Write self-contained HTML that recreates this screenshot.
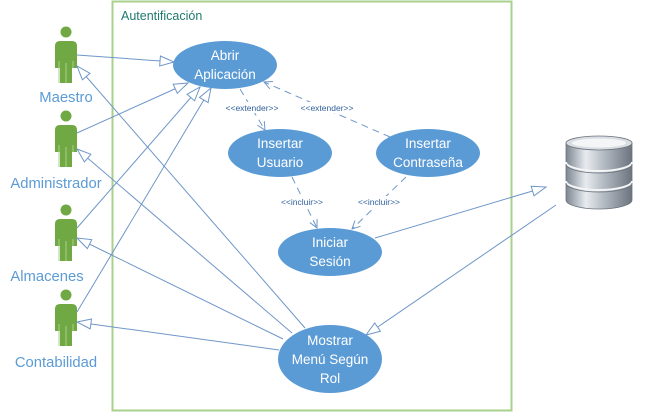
<!DOCTYPE html>
<html><head><meta charset="utf-8"><style>
html,body{margin:0;padding:0;background:#fff;}
svg{display:block;font-family:"Liberation Sans",sans-serif;}
.e{fill:#5b9bd5;}
.t{fill:#fff;font-size:13.5px;text-anchor:middle;}
.al{fill:#5b9bd5;font-size:14.8px;text-anchor:middle;}
.l{stroke:#6f96c8;stroke-width:1;fill:none;}
.d{stroke:#6f96c8;stroke-width:1;fill:none;stroke-dasharray:7,5;}
.s{fill:#2f5f9a;font-size:8.5px;text-anchor:middle;}
</style></head><body>
<svg width="647" height="413" viewBox="0 0 647 413">
<defs>
<marker id="tri" markerWidth="16" markerHeight="12" refX="15" refY="6" orient="auto" markerUnits="userSpaceOnUse">
<path d="M1,1 L15,6 L1,11 Z" fill="#fff" stroke="#6f96c8" stroke-width="1"/>
</marker>
<marker id="op" markerWidth="10" markerHeight="10" refX="9" refY="5" orient="auto" markerUnits="userSpaceOnUse">
<path d="M1,1 L9,5 L1,9" fill="none" stroke="#6f96c8" stroke-width="1"/>
</marker>
<linearGradient id="db" x1="0" x2="1" y1="0" y2="0">
<stop offset="0" stop-color="#7d8590"/><stop offset="0.3" stop-color="#e8ecf0"/><stop offset="0.55" stop-color="#b8bec6"/><stop offset="1" stop-color="#6b737e"/>
</linearGradient>
<g id="actor">
<circle cx="0" cy="0" r="5.5" fill="#70a844"/>
<path d="M-11,14 Q-11,9 -6,9 L6,9 Q11,9 11,14 L11,36 L6,36 L6,51 L-6,51 L-6,36 L-11,36 Z" fill="#70a844"/>
<path d="M-7,29 V51 M7,29 V36 M0,31 V51" stroke="#a7cf88" stroke-width="1"/>
</g>
</defs>
<rect x="112.5" y="1.5" width="399" height="409" fill="none" stroke="#a9d18e" stroke-width="2"/>
<text x="121" y="20" fill="#1f7a6e" font-size="12.5">Autentificación</text>

<use href="#actor" x="66" y="32"/>
<use href="#actor" x="66" y="116"/>
<use href="#actor" x="66" y="210"/>
<use href="#actor" x="66" y="295"/>
<text class="al" x="66" y="102">Maestro</text>
<text class="al" x="56" y="188">Administrador</text>
<text class="al" x="47" y="281">Almacenes</text>
<text class="al" x="56" y="367">Contabilidad</text>

<line class="l" x1="77" y1="55" x2="174" y2="62" marker-end="url(#tri)"/>
<line class="l" x1="77" y1="133" x2="188" y2="83" marker-end="url(#tri)"/>
<line class="l" x1="77" y1="228" x2="200" y2="87" marker-end="url(#tri)"/>
<line class="l" x1="77" y1="312" x2="211" y2="88" marker-end="url(#tri)"/>
<line class="l" x1="305" y1="328" x2="77" y2="66" marker-end="url(#tri)"/>
<line class="l" x1="292" y1="333" x2="77" y2="149" marker-end="url(#tri)"/>
<line class="l" x1="283" y1="339" x2="77" y2="238" marker-end="url(#tri)"/>
<line class="l" x1="279" y1="350" x2="77" y2="322" marker-end="url(#tri)"/>
<line class="l" x1="375" y1="238" x2="546" y2="187" marker-end="url(#tri)"/>
<line class="l" x1="556" y1="205" x2="366" y2="335" marker-end="url(#tri)"/>

<line class="d" x1="240" y1="89" x2="265" y2="130" marker-end="url(#op)"/>
<line class="d" x1="390" y1="137" x2="264" y2="82" marker-end="url(#op)"/>
<line class="d" x1="292" y1="177" x2="317" y2="228" marker-end="url(#op)"/>
<line class="d" x1="406" y1="177" x2="352" y2="229" marker-end="url(#op)"/>
<rect x="222" y="102" width="60" height="11" fill="#fff"/>
<rect x="297" y="102" width="60" height="11" fill="#fff"/>
<rect x="280" y="196" width="44" height="11" fill="#fff"/>
<rect x="355" y="196" width="48" height="11" fill="#fff"/>
<text class="s" x="252" y="111">&lt;&lt;extender&gt;&gt;</text>
<text class="s" x="327" y="111">&lt;&lt;extender&gt;&gt;</text>
<text class="s" x="302" y="205">&lt;&lt;incluir&gt;&gt;</text>
<text class="s" x="379" y="205">&lt;&lt;incluir&gt;&gt;</text>

<ellipse class="e" cx="225" cy="65" rx="52" ry="24"/>
<text class="t" x="225" y="60">Abrir</text><text class="t" x="225" y="79">Aplicación</text>
<ellipse class="e" cx="280" cy="153" rx="52" ry="24"/>
<text class="t" x="280" y="148">Insertar</text><text class="t" x="280" y="167">Usuario</text>
<ellipse class="e" cx="428" cy="153" rx="52" ry="24"/>
<text class="t" x="428" y="148">Insertar</text><text class="t" x="428" y="167">Contraseña</text>
<ellipse class="e" cx="330" cy="252" rx="52" ry="24"/>
<text class="t" x="330" y="247">Iniciar</text><text class="t" x="330" y="266">Sesión</text>
<ellipse class="e" cx="330" cy="359" rx="52" ry="34"/>
<text class="t" x="330" y="345">Mostrar</text><text class="t" x="330" y="364">Menú Según</text><text class="t" x="330" y="383">Rol</text>

<g>
<path d="M566,143 L566,200 A33,9 0 0 0 632,200 L632,143 Z" fill="url(#db)" stroke="#6b737e" stroke-width="0.8"/>
<path d="M566,162 A33,9 0 0 0 632,162 M566,181 A33,9 0 0 0 632,181" fill="none" stroke="#f2f4f6" stroke-width="2"/>
<path d="M566,164 A33,9 0 0 0 632,164 M566,183 A33,9 0 0 0 632,183" fill="none" stroke="#6b737e" stroke-width="0.8"/>
<ellipse cx="599" cy="143" rx="33" ry="7" fill="#d9dde2" stroke="#6b737e" stroke-width="0.8"/>
<ellipse cx="599" cy="143" rx="27" ry="4.5" fill="#f3f5f7"/>
</g>
</svg>
</body></html>
